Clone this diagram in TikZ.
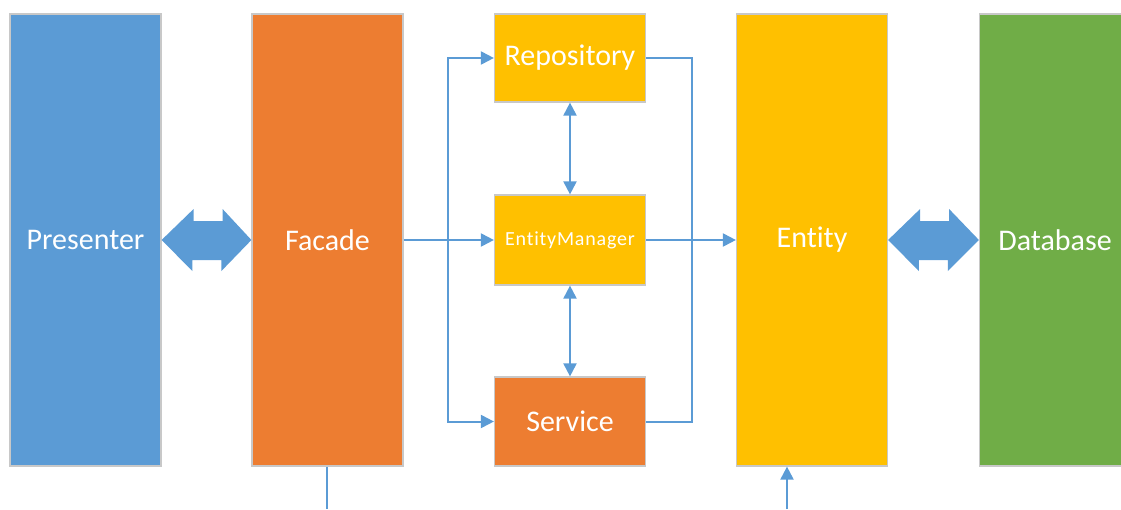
\documentclass[tikz,border=0pt]{standalone}
\usepackage{fontspec}
\setmainfont{Carlito}[Ligatures=NoCommon]
\usetikzlibrary{arrows.meta,calc}
\definecolor{cblue}{HTML}{5B9BD5}
\definecolor{corange}{HTML}{ED7D31}
\definecolor{cyellow}{HTML}{FFC000}
\definecolor{cgreen}{HTML}{70AD47}
\definecolor{boxgray}{HTML}{C8C8C8}
\begin{document}
\begin{tikzpicture}[x=1pt,y=-1pt,
  box/.style={draw=boxgray, line width=1.2pt, text=white, minimum width=151pt, inner sep=0pt, font=\fontsize{30}{33}\selectfont},
  line/.style={draw=cblue, line width=2pt},
  conn/.style={line, -{Triangle[length=13pt,width=13pt]}},
  dconn/.style={line, {Triangle[length=13pt,width=13pt]}-{Triangle[length=13pt,width=13pt]}},
  bigarrow/.style={fill=cblue}
]
\useasboundingbox (0,0) rectangle (1121,509);
\node[box, fill=cblue, minimum height=452pt] (pres) at (85.5,240) {Presenter};
\node[box, fill=corange, minimum height=452pt] (fac) at (327.5,240) {Facade};
\node[box, fill=cyellow, minimum height=88pt] (rep) at (570,58) {Repository};
\node[box, fill=cyellow, minimum height=90pt, font=\fontsize{20}{23}\selectfont\addfontfeature{LetterSpace=4}] (em) at (570,240) {EntityManager};
\node[box, fill=corange, minimum height=89pt] (serv) at (570,421.5) {Service};
\node[box, fill=cyellow, minimum height=452pt] (ent) at (812,240) {Entity};
\node[box, fill=cgreen, minimum height=452pt] (db) at (1055,240) {Database};

% big double arrows
\fill[bigarrow] (pres.east) -- ++(32,-31) -- ++(0,12) -- ++(29,0) -- ++(0,-12) -- (fac.west) -- ++(-30,31) -- ++(0,-11) -- ++(-29,0) -- ++(0,11) -- cycle;
\fill[bigarrow] (ent.east) -- ++(32,-31) -- ++(0,12) -- ++(29,0) -- ++(0,-12) -- (db.west) -- ++(-31,31) -- ++(0,-11) -- ++(-29,0) -- ++(0,11) -- cycle;

% connectors
\coordinate (L) at (448,0);
\coordinate (R) at (692,0);
\draw[conn] (fac.east) -- (em.west);
\draw[conn] (L |- em.west) |- (rep.west);
\draw[conn] (L |- em.west) |- (serv.west);
\draw[line] (rep.east) -| (R |- serv.east) -- (serv.east);
\draw[conn] (em.east) -- (ent.west);
\draw[dconn] (rep.south) -- (em.north);
\draw[dconn] (em.south) -- (serv.north);
\coordinate (fb) at (327,509);
\coordinate (eb) at (787,509);
\draw[line] (fac.south -| fb) -- (fb);
\draw[conn] (eb) -- (eb |- ent.south);
\end{tikzpicture}
\end{document}
